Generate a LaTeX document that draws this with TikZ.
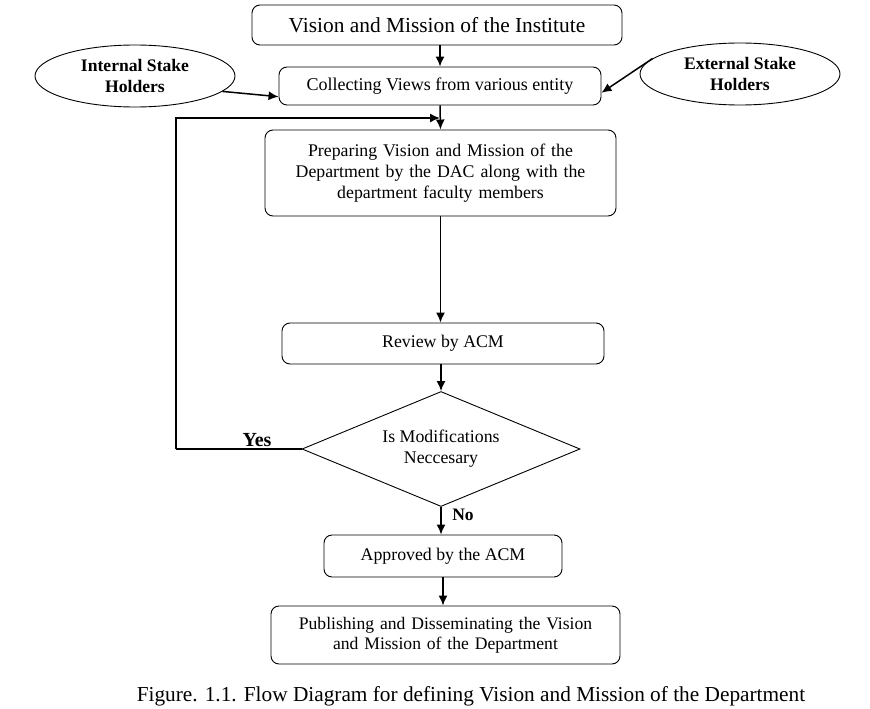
\documentclass[tikz,border=0pt]{standalone}
\usepackage{fontspec}
\setmainfont{Liberation Serif}
\usetikzlibrary{arrows.meta,shapes.geometric,calc}
\tikzset{
  box/.style={draw, line width=0.9pt, rounded corners=8pt, align=center, inner sep=2pt},
  oval/.style={draw, line width=0.9pt, ellipse, align=center, inner sep=0pt, font=\bfseries\fontsize{17.6}{21}\selectfont},
  body/.style={font=\fontsize{17.8}{21}\selectfont},
  arr/.style={line width=1.5pt, -{Latex[length=10pt,width=9pt]}},
  conn/.style={line width=1.5pt},
  lbl/.style={font=\bfseries\fontsize{17.5}{20}\selectfont},
}
\begin{document}
\begin{tikzpicture}[x=1pt,y=-1pt]
\useasboundingbox[fill=white] (0,0) rectangle (870,709);
\node[box, minimum width=370pt, minimum height=40pt, font=\fontsize{21.4}{24}\selectfont] (b1) at (437,25) {Vision and Mission of the Institute};
\node[box, minimum width=322pt, minimum height=38pt, font=\fontsize{18}{21}\selectfont] (b2) at (440,86) {Collecting Views from various entity};
\node[box, body, minimum width=351pt, minimum height=86pt, text width=345pt] (b3) at (440.5,173) {Preparing Vision and Mission of the\\Department by the DAC along with the\\department faculty members};
\node[box, body, minimum width=322pt, minimum height=41pt] (b4) at (443,343.5) {Review by ACM};
\node[draw, body, line width=0.9pt, diamond, aspect=2.417, minimum width=278pt, minimum height=115pt, inner sep=0pt, align=center] (dia) at (441,449) {Is Modifications\\Neccesary};
\node[box, body, minimum width=238pt, minimum height=42pt] (b5) at (443,556) {Approved by the ACM};
\node[box, minimum width=349pt, minimum height=58pt, text width=345pt, font=\fontsize{17.6}{20}\selectfont] (b6) at (445.5,635) {Publishing and Disseminating the Vision\\and Mission of the Department};
\node[oval, minimum width=200pt, minimum height=62pt] (ie) at (135,76) {Internal Stake\\Holders};
\node[oval, minimum width=200pt, minimum height=62pt] (ee) at (740,74) {External Stake\\Holders};
\node[font=\fontsize{21.3}{24}\selectfont] (cap) at (471,696) {Figure. 1.1. Flow Diagram for defining Vision and Mission of the Department};
\coordinate (lp) at (176,449);
\coordinate (mid) at (440,118);
\draw[arr] (b2.north |- b1.south) -- (b2.north);
\draw[arr] (b2.south) -- (b3.north);
\draw[arr] (ie.-10) -- ($(b2.west)!0.55!(b2.south west)$);
\draw[arr] (ee.170) -- ($(b2.east)!0.35!(b2.south east)$);
\draw[conn] (dia.west) -- (lp);
\draw[arr] (lp) |- (mid);
\draw[arr] (b3.south) -- (b3.south |- b4.north);
\draw[arr] (dia.north |- b4.south) -- (dia.north);
\draw[arr] (dia.south) -- (dia.south |- b5.north);
\draw[arr] (b5.south) -- (b5.south |- b6.north);
\node[lbl, font=\bfseries\fontsize{20}{22}\selectfont] (yes) at (257,440) {Yes};
\node[lbl] (no) at (463,515) {No};
\end{tikzpicture}
\end{document}
